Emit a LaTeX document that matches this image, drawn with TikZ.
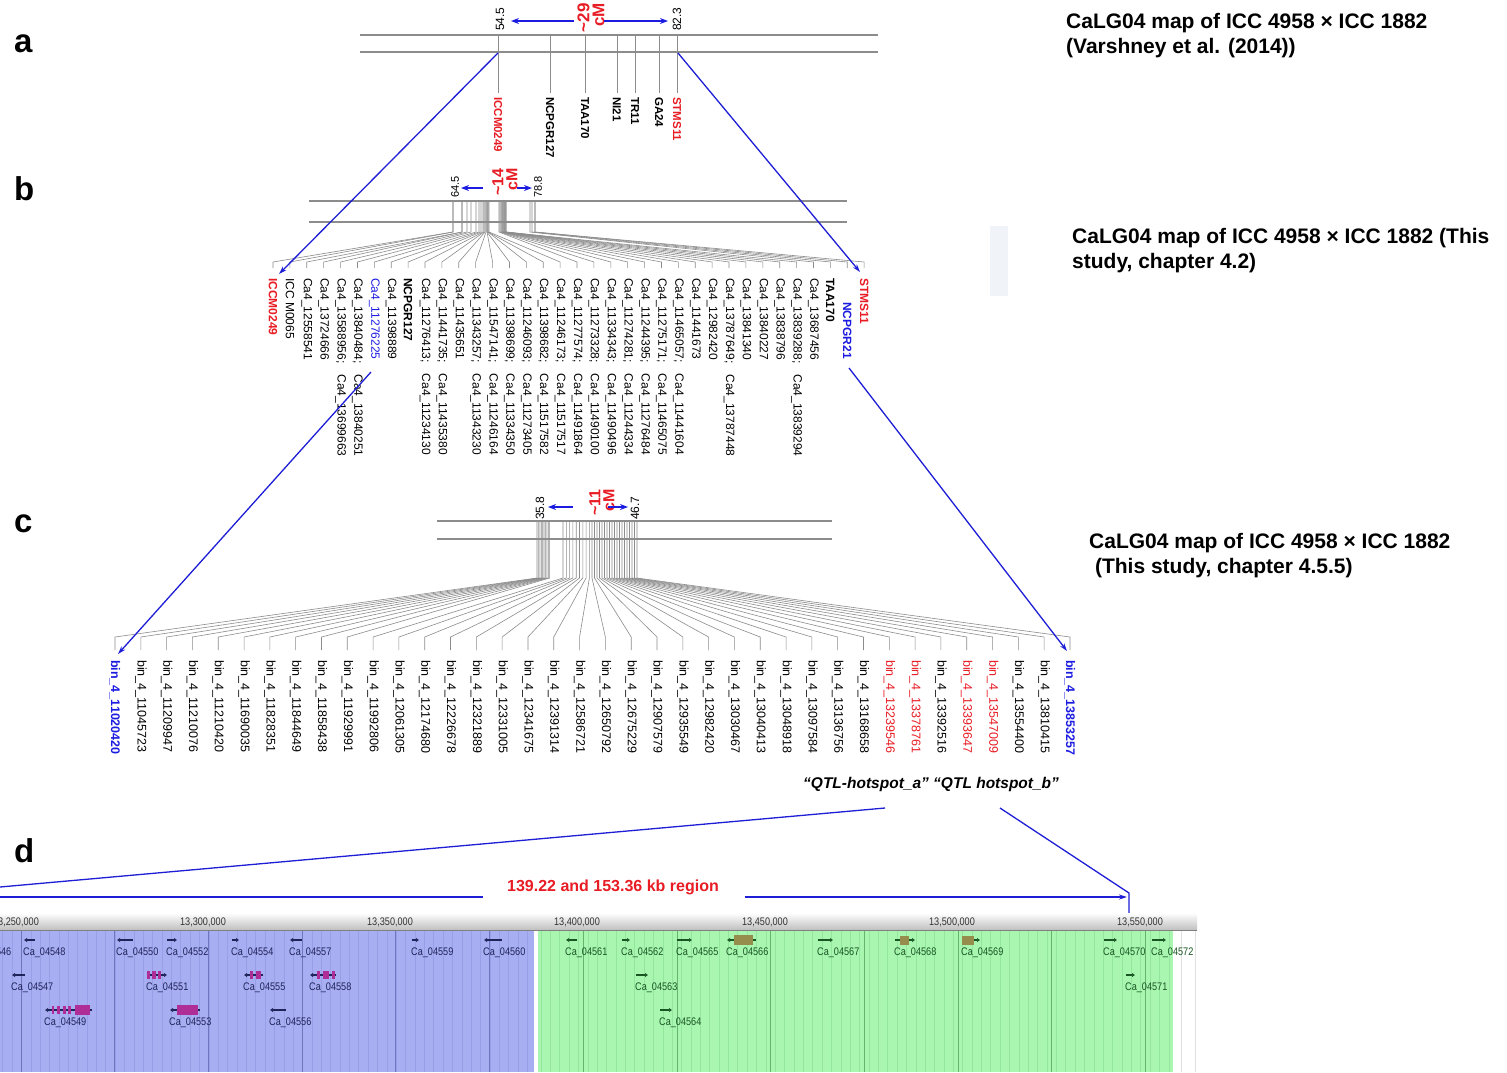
\documentclass[tikz,border=0pt]{standalone}
\usepackage{fontspec}
\setmainfont{Liberation Sans}
\newfontfamily\narrowf[FakeStretch=0.83]{Liberation Sans}
\usetikzlibrary{arrows.meta}
\newcommand\myfs[1]{\fontsize{#1}{#1}\selectfont}
\definecolor{mred}{RGB}{232,28,36}
\definecolor{mblue}{RGB}{28,28,225}
\definecolor{lnblue}{RGB}{30,30,215}
\definecolor{mapgray}{RGB}{140,140,140}
\definecolor{bluereg}{RGB}{168,174,242}
\definecolor{bluegrid}{RGB}{110,118,190}
\definecolor{bluestripe}{RGB}{152,159,230}
\definecolor{greenreg}{RGB}{168,246,176}
\definecolor{greengrid}{RGB}{100,180,110}
\definecolor{greenstripe}{RGB}{148,230,158}
\definecolor{navyg}{RGB}{30,35,90}
\definecolor{darkg}{RGB}{25,85,35}
\definecolor{exmag}{RGB}{175,45,150}
\definecolor{exolive}{RGB}{150,140,75}
\definecolor{paleb}{RGB}{240,243,248}
\tikzset{
  maplbl/.style={rotate=-90, anchor=west, inner sep=0pt, font=\myfs{12}},
  toplbl/.style={rotate=90, anchor=west, inner sep=0pt, font=\myfs{12}},
  cmlbl/.style 2 args={rotate=90, anchor=east, inner sep=0pt, align=right, text=mred, font=\bfseries\fontsize{#1}{#2}\selectfont},
  chrom/.style={draw=mapgray, line width=1.1pt},
  tickl/.style={draw=mapgray, line width=0.8pt},
  fan/.style={draw=mapgray, line width=0.6pt},
  barrow/.style={draw=mblue, line width=1.5pt, -{Stealth[length=8pt,width=6pt]}},
  conn/.style={draw=lnblue, line width=1.3pt},
  connarr/.style={conn, -{Stealth[length=8pt,width=5pt]}},
  titlet/.style={anchor=base west, inner sep=0pt, font=\bfseries\myfs{21}},
  panel/.style={anchor=base west, inner sep=0pt, font=\bfseries\myfs{33}},
  rul/.style={anchor=center, inner sep=0pt, font=\narrowf\myfs{11}, text=black!80},
  gname/.style={anchor=west, inner sep=0pt, font=\narrowf\myfs{11}},
  gline/.style={line width=1.8pt, -{Latex[length=3pt,width=4.5pt]}},
  lbn/.style={}, lbr/.style={text=mred, font=\bfseries\myfs{12}},
  lbu/.style={text=mblue}, lbk/.style={font=\bfseries\myfs{12}},
  lbbu/.style={text=mblue, font=\bfseries\myfs{12}},
  cn/.style={}, cr/.style={text=mred}, cu/.style={text=mblue, font=\bfseries\myfs{12.5}}
}
\newcommand\gene[6]{% name, label, start, tip, row, colour
  \draw[gline, #6] (#3,{940+35*(#5-1)}) -- (#4,{940+35*(#5-1)});
  \node[gname, text=#6] (#1) at ({min(#3,#4)-1},{953+35*(#5-1)}) {#2};}
\newcommand\exon[5]{\fill[#5] (#1,{940+35*(#3-1)-#4}) rectangle (#2,{940+35*(#3-1)+#4});}
\begin{document}
\begin{tikzpicture}[x=1pt,y=-1pt]
\useasboundingbox (0,0) rectangle (1507,1072);
\fill[white] (0,0) rectangle (1507,1072);

% ---------------- panel a
\node[panel] (pa) at (14,52) {a};
\draw[chrom] (360,35) -- (878,35);
\draw[chrom] (360,52) -- (878,52);
\foreach \x/\t/\c [count=\k] in {498/ICCM0249/mred, 550/NCPGR127/black, 585/TAA170/black, 617/NI21/black, 635/TR11/black, 659/GA24/black, 677/STMS11/mred}{
  \draw[tickl] (\x,35) -- (\x,93);
  \node[maplbl, text=\c, font=\bfseries\myfs{11.5}] (al\k) at (\x,97) {\t};
}
\node[toplbl] (a545) at (500,31) {54.5};
\node[toplbl] (a823) at (677,31) {82.3};
\node[cmlbl={17}{15}] (acm) at (591,3) {\textasciitilde29\\cM};
\coordinate (aL1) at (574,21); \coordinate (aL2) at (511,21);
\coordinate (aR1) at (604,21); \coordinate (aR2) at (668,21);
\draw[barrow] (aL1) -- (aL2);
\draw[barrow] (aR1) -- (aR2);
\node[titlet] (ta1) at (1066,28) {CaLG04 map of ICC 4958 × ICC 1882};
\node[titlet] (ta2) at (1066,53) {(Varshney et al. (2014))};

% ---------------- panel b
\node[panel] (pb) at (14,200) {b};
\draw[chrom] (309,201) -- (847,201);
\draw[chrom] (309,222) -- (847,222);
\foreach \i/\m/\t/\s/\y in {
 0/453/ICCM0249/lbr/278, 1/453/ICC M0065/lbn/278, 2/462/Ca4\_12558541/lbn/278,
 3/462/Ca4\_13724666/lbn/278, 4/467/Ca4\_13588956;\hspace{11pt}Ca4\_13699663/lbn/278,
 5/471/Ca4\_13840484;\hspace{11pt}Ca4\_13840251/lbn/278, 6/476/Ca4\_11276225/lbu/278,
 7/479/Ca4\_11398889/lbn/278, 8/481/NCPGR127/lbk/278,
 9/483/Ca4\_11276413;\hspace{11pt}Ca4\_11234130/lbn/278,
 10/484/Ca4\_11441735;\hspace{11pt}Ca4\_11435380/lbn/278,
 11/485/Ca4\_11435651/lbn/278,
 12/486/Ca4\_11343257;\hspace{11pt}Ca4\_11343230/lbn/278,
 13/487/Ca4\_11547141;\hspace{11pt}Ca4\_11246164/lbn/278,
 14/487/Ca4\_11398699;\hspace{11pt}Ca4\_11334350/lbn/278,
 15/488/Ca4\_11246093;\hspace{11pt}Ca4\_11273405/lbn/278,
 16/488/Ca4\_11398682;\hspace{11pt}Ca4\_11517582/lbn/278,
 17/489/Ca4\_11246173;\hspace{11pt}Ca4\_11517517/lbn/278,
 18/499/Ca4\_11277574;\hspace{11pt}Ca4\_11491864/lbn/278,
 19/500/Ca4\_11273328;\hspace{11pt}Ca4\_11490100/lbn/278,
 20/501/Ca4\_11334343;\hspace{11pt}Ca4\_11490496/lbn/278,
 21/502/Ca4\_11274281;\hspace{11pt}Ca4\_11244334/lbn/278,
 22/502/Ca4\_11244395;\hspace{11pt}Ca4\_11276484/lbn/278,
 23/503/Ca4\_11275171;\hspace{11pt}Ca4\_11465075/lbn/278,
 24/503/Ca4\_11465057;\hspace{11pt}Ca4\_11441604/lbn/278,
 25/504/Ca4\_11441673/lbn/278, 26/504/Ca4\_12982420/lbn/278,
 27/505/Ca4\_13787649;\hspace{11pt}Ca4\_13787448/lbn/278,
 28/505/Ca4\_13841340/lbn/278, 29/505/Ca4\_13840227/lbn/278,
 30/506/Ca4\_13838796/lbn/278,
 31/506/Ca4\_13839288;\hspace{11pt}Ca4\_13839294/lbn/278,
 32/530/Ca4\_13687456/lbn/278, 33/532/TAA170/lbk/278,
 34/535/NCPGR21/lbbu/302, 35/535/STMS11/lbr/278}{
  \pgfmathsetmacro\x{273+16.89*\i}
  \draw[fan] (\m,201) -- (\m,232) -- (\x,262) -- (\x,268);
  \node[maplbl, \s] (bl\i) at (\x,\y) {\t};
}
\node[toplbl, font=\myfs{11}] (b645) at (455,198) {64.5};
\node[toplbl, font=\myfs{11}] (b788) at (538,198) {78.8};
\node[cmlbl={16}{14}] (bcm) at (505,168) {\textasciitilde14\\cM};
\coordinate (bL1) at (483,188); \coordinate (bL2) at (461,188);
\coordinate (bR1) at (517,188); \coordinate (bR2) at (532,188);
\draw[barrow] (bL1) -- (bL2);
\draw[barrow] (bR1) -- (bR2);
\fill[paleb] (990,226) rectangle (1008,296);
\node[titlet] (tb1) at (1072,243) {CaLG04 map of ICC 4958 × ICC 1882 (This};
\node[titlet] (tb2) at (1072,268) {study, chapter 4.2)};

% a -> b connectors
\coordinate (ab1) at (498,53); \coordinate (ab2) at (279,274);
\coordinate (ab3) at (678,53); \coordinate (ab4) at (860,272);
\draw[connarr] (ab1) -- (ab2);
\draw[connarr] (ab3) -- (ab4);

% ---------------- panel c
\node[panel] (pc) at (14,532) {c};
\draw[chrom] (437,521) -- (832,521);
\draw[chrom] (437,539) -- (832,539);
\foreach \i/\t/\s in {
 0/bin\_4\_11020420/cu, 1/bin\_4\_11045723/cn, 2/bin\_4\_11209947/cn, 3/bin\_4\_11210076/cn,
 4/bin\_4\_11210420/cn, 5/bin\_4\_11690035/cn, 6/bin\_4\_11828351/cn, 7/bin\_4\_11844649/cn,
 8/bin\_4\_11858438/cn, 9/bin\_4\_11929991/cn, 10/bin\_4\_11992806/cn, 11/bin\_4\_12061305/cn,
 12/bin\_4\_12174680/cn, 13/bin\_4\_12226678/cn, 14/bin\_4\_12321889/cn, 15/bin\_4\_12331005/cn,
 16/bin\_4\_12341675/cn, 17/bin\_4\_12391314/cn, 18/bin\_4\_12586721/cn, 19/bin\_4\_12650792/cn,
 20/bin\_4\_12675229/cn, 21/bin\_4\_12907579/cn, 22/bin\_4\_12935549/cn, 23/bin\_4\_12982420/cn,
 24/bin\_4\_13030467/cn, 25/bin\_4\_13040413/cn, 26/bin\_4\_13048918/cn, 27/bin\_4\_13097584/cn,
 28/bin\_4\_13136756/cn, 29/bin\_4\_13168658/cn, 30/bin\_4\_13239546/cr, 31/bin\_4\_13378761/cr,
 32/bin\_4\_13392516/cn, 33/bin\_4\_13393647/cr, 34/bin\_4\_13547009/cr, 35/bin\_4\_13554400/cn,
 36/bin\_4\_13810415/cn, 37/bin\_4\_13853257/cu}{
  \pgfmathsetmacro\x{115+25.81*\i}
  \pgfmathsetmacro\m{\i<10 ? 537+\i*1.4 : (\i<19 ? 563+(\i-10)*3.3 : 592+(\i-19)*2.5)}
  \draw[fan] (\m,521) -- (\m,578) -- (\x,637) -- (\x,650);
  \node[maplbl, font=\myfs{12.5}, \s] (cl\i) at (\x,660) {\t};
}
\node[toplbl] (c358) at (540,520) {35.8};
\node[toplbl] (c467) at (635,520) {46.7};
\node[cmlbl={16}{14}] (ccm) at (602,489) {\textasciitilde11\\cM};
\coordinate (cL1) at (573,507); \coordinate (cL2) at (548,507);
\coordinate (cR1) at (608,507); \coordinate (cR2) at (628,507);
\draw[barrow] (cL1) -- (cL2);
\draw[barrow] (cR1) -- (cR2);
\node[titlet] (tc1) at (1089,548) {CaLG04 map of ICC 4958 × ICC 1882};
\node[titlet] (tc2) at (1089,573) {\ (This study, chapter 4.5.5)};

% b -> c connectors
\coordinate (bc1) at (371,372); \coordinate (bc2) at (118,654);
\coordinate (bc3) at (849,368); \coordinate (bc4) at (1067,651);
\draw[connarr] (bc1) -- (bc2);
\draw[connarr] (bc3) -- (bc4);

\node[anchor=base west, inner sep=0pt, font=\bfseries\itshape\myfs{15.5}] (qtl) at (803,788) {“QTL-hotspot\_a” “QTL hotspot\_b”};

% ---------------- panel d
\node[panel] (pd) at (14,862) {d};
\coordinate (d1) at (0,887); \coordinate (d2) at (885,808);
\coordinate (d3) at (1000,808); \coordinate (d4) at (1129,893); \coordinate (d5) at (1129,917);
\coordinate (d6) at (0,897); \coordinate (d7) at (483,897);
\coordinate (d8) at (745,897); \coordinate (d9) at (1127,897);
\draw[conn] (d1) -- (d2);
\draw[conn] (d3) -- (d4) -- (d5);
\draw[conn] (d6) -- (d7);
\draw[connarr] (d8) -- (d9);
\node[anchor=base, inner sep=0pt, font=\bfseries\myfs{16}, text=mred] (reg) at (613,891) {139.22 and 153.36 kb region};

% ruler
\shade[top color=white, bottom color=black!25] (0,913) rectangle (1197,930);
\draw[black!50, line width=0.8pt] (0,930) -- (1197,930);
\foreach \x/\t [count=\k] in {16/13\rlap{,}250\rlap{,}000, 203/13\rlap{,}300\rlap{,}000}{}
\foreach \x/\a [count=\k] in {16/250, 203/300, 390/350, 577/400, 765/450, 952/500, 1140/550}{
  \node[rul] (ru\k) at (\x,922) {13,\a,000};
}
% regions
\fill[bluereg] (0,931) rectangle (534,1072);
\fill[greenreg] (538,931) rectangle (1173,1072);
\foreach \x in {2.7,12.07,...,532}{\draw[bluestripe, line width=0.6pt] (\x,931) -- (\x,1072);}
\foreach \x in {541,550.37,...,1172}{\draw[greenstripe, line width=0.6pt] (\x,931) -- (\x,1072);}
\foreach \x in {21,114.7,208.4,302.1,395.8,489.5}{\draw[bluegrid, line width=0.7pt] (\x,931) -- (\x,1072);}
\foreach \x in {583.2,676.9,770.6,864.3,958,1051.7,1145.4}{\draw[greengrid, line width=0.7pt] (\x,931) -- (\x,1072);}
\draw[black!12] (1181,931) -- (1181,1072);
\draw[black!12] (1195,931) -- (1195,1072);

% genes, blue region
\node[gname, text=navyg] (g546) at (-31,953) {Ca\_04546};
\gene{g548}{Ca\_04548}{35}{24}{1}{navyg}
\gene{g550}{Ca\_04550}{133}{117}{1}{navyg}
\gene{g552}{Ca\_04552}{167}{177}{1}{navyg}
\gene{g554}{Ca\_04554}{232}{239}{1}{navyg}
\gene{g557}{Ca\_04557}{302}{290}{1}{navyg}
\gene{g559}{Ca\_04559}{412}{419}{1}{navyg}
\gene{g560}{Ca\_04560}{502}{484}{1}{navyg}
\gene{g547}{Ca\_04547}{25}{12}{2}{navyg}
\gene{g551}{Ca\_04551}{147}{167}{2}{navyg}
\exon{147}{150}{2}{4}{exmag}\exon{152}{156}{2}{4}{exmag}\exon{158}{161}{2}{4}{exmag}
\gene{g555}{Ca\_04555}{263}{244}{2}{navyg}
\exon{250}{253}{2}{4}{exmag}\exon{256}{261}{2}{4}{exmag}
\gene{g558}{Ca\_04558}{336}{310}{2}{navyg}
\exon{317}{320}{2}{4}{exmag}\exon{323}{329}{2}{4}{exmag}\exon{332}{335}{2}{4}{exmag}
\gene{g549}{Ca\_04549}{92}{45}{3}{navyg}
\exon{52}{54}{3}{4}{exmag}\exon{57}{60}{3}{4}{exmag}\exon{63}{66}{3}{4}{exmag}\exon{68}{71}{3}{4}{exmag}\exon{75}{90}{3}{5}{exmag}
\gene{g553}{Ca\_04553}{200}{170}{3}{navyg}
\exon{177}{198}{3}{5}{exmag}
\gene{g556}{Ca\_04556}{286}{270}{3}{navyg}

% genes, green region
\gene{g561}{Ca\_04561}{577}{566}{1}{darkg}
\gene{g562}{Ca\_04562}{622}{630}{1}{darkg}
\gene{g565}{Ca\_04565}{677}{692}{1}{darkg}
\gene{g566}{Ca\_04566}{756}{727}{1}{darkg}
\exon{734}{753}{1}{5}{exolive}
\gene{g567}{Ca\_04567}{818}{833}{1}{darkg}
\gene{g568}{Ca\_04568}{895}{915}{1}{darkg}
\exon{900}{909}{1}{4.5}{exolive}
\gene{g569}{Ca\_04569}{962}{980}{1}{darkg}
\exon{962}{974}{1}{4.5}{exolive}
\gene{g570}{Ca\_04570}{1104}{1117}{1}{darkg}
\gene{g572}{Ca\_04572}{1152}{1166}{1}{darkg}
\gene{g563}{Ca\_04563}{636}{648}{2}{darkg}
\gene{g571}{Ca\_04571}{1126}{1135}{2}{darkg}
\gene{g564}{Ca\_04564}{660}{672}{3}{darkg}
\end{tikzpicture}
\end{document}
